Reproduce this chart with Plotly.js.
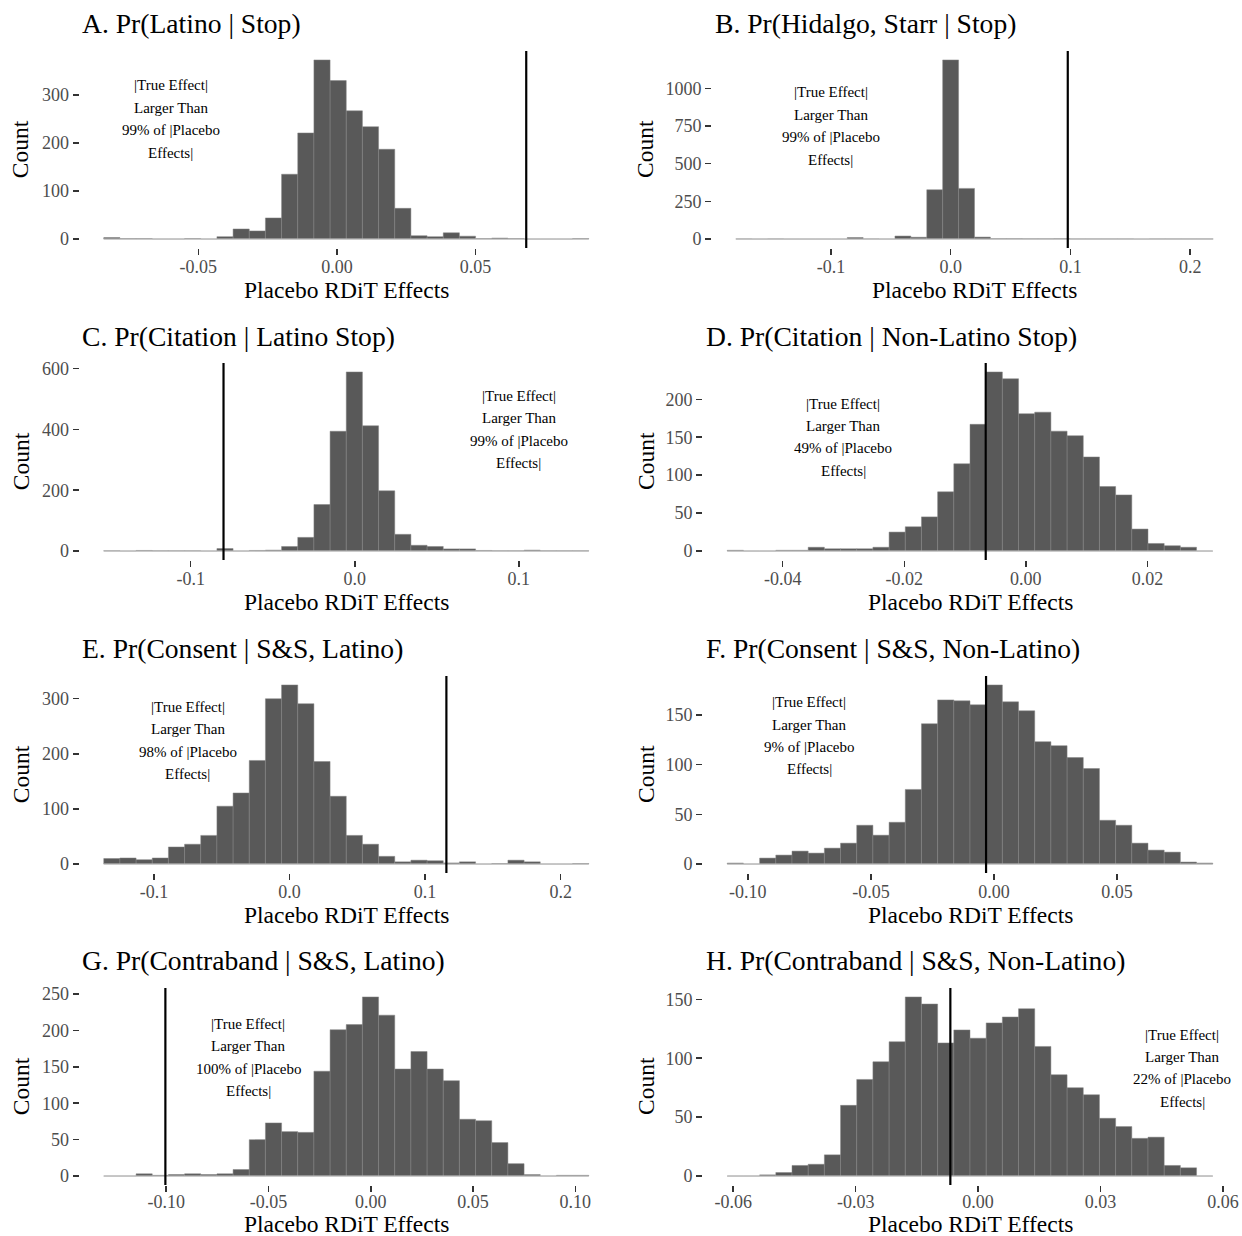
<!DOCTYPE html>
<html>
<head>
<meta charset="utf-8">
<script src="https://cdn.plot.ly/plotly-3.0.1.min.js"></script>
<style>
  html, body { margin: 0; padding: 0; background: #ffffff; }
  #chart { width: 1242px; height: 1236px; }
</style>
</head>
<body>
<div id="chart"></div>
<script>
// Placebo RDiT effect distributions (30-bin histograms of placebo estimates)
const panelTitles = [
  'A. Pr(Latino | Stop)',
  'B. Pr(Hidalgo, Starr | Stop)',
  'C. Pr(Citation | Latino Stop)',
  'D. Pr(Citation | Non-Latino Stop)',
  'E. Pr(Consent | S&amp;S, Latino)',
  'F. Pr(Consent | S&amp;S, Non-Latino)',
  'G. Pr(Contraband | S&amp;S, Latino)',
  'H. Pr(Contraband | S&amp;S, Non-Latino)'
];

// bin counts, left to right
const countsA = [3,1,1,0,0,1,0,5,21,17,44,135,221,373,330,267,234,187,64,7,5,13,6,1,2,1,0,0,0,1];
const countsB = [1,0,1,0,0,0,0,10,1,0,20,12,327,1188,336,13,3,3,2,2,3,1,1,1,1,0,1,1,1,1];
const countsC = [1,0,2,1,1,1,0,8,0,2,3,15,45,153,394,589,412,198,55,19,15,7,7,2,1,1,3,1,1,1];
const countsD = [1,0,0,1,1,5,3,3,3,5,25,32,45,78,115,167,236,227,181,183,158,152,124,85,74,29,10,7,5,0];
const countsE = [10,11,8,11,31,36,52,105,129,188,300,325,291,186,123,52,36,14,4,7,6,2,4,0,1,7,4,0,0,1];
const countsF = [1,0,6,9,13,11,16,21,39,29,42,75,141,165,164,160,180,163,154,123,119,107,96,44,39,21,14,12,2,1];
const countsG = [0,0,3,1,2,3,2,3,9,50,73,61,60,144,201,208,246,221,147,171,147,131,78,76,46,17,2,0,1,1];
const countsH = [0,0,1,3,9,10,18,60,82,97,114,152,146,113,124,117,130,135,142,110,86,75,69,49,42,32,33,9,7,0];

// outer edges of the binned range [first bin start, last bin end]
const binRangeA = [-0.08414, 0.09086];
const binRangeB = [-0.17937, 0.21919];
const binRangeC = [-0.15301, 0.14265];
const binRangeD = [-0.04911, 0.03074];
const binRangeE = [-0.13703, 0.22070];
const binRangeF = [-0.10836, 0.08891];
const binRangeG = [-0.13053, 0.10657];
const binRangeH = [-0.06145, 0.05748];

// true RDiT estimate per panel, and share of |placebo| it exceeds
const trueEffect = [0.0683, 0.0978, -0.0800, -0.0066, 0.1157, -0.0032, -0.1004, -0.0068];
const pctLarger  = [99, 99, 99, 49, 98, 9, 100, 22];
const noteX = [-0.06, -0.10, 0.10, -0.03, -0.075, -0.075, -0.06, 0.05];
const noteY = [250, 750, 400, 150, 224, 129, 163, 91.5];

// axis ticks
const xTickValsA = [-0.05, 0, 0.05];             const xTickTextA = ['-0.05', '0.00', '0.05'];
const xTickValsB = [-0.1, 0, 0.1, 0.2];          const xTickTextB = ['-0.1', '0.0', '0.1', '0.2'];
const xTickValsC = [-0.1, 0, 0.1];               const xTickTextC = ['-0.1', '0.0', '0.1'];
const xTickValsD = [-0.04, -0.02, 0, 0.02];      const xTickTextD = ['-0.04', '-0.02', '0.00', '0.02'];
const xTickValsE = [-0.1, 0, 0.1, 0.2];          const xTickTextE = ['-0.1', '0.0', '0.1', '0.2'];
const xTickValsF = [-0.10, -0.05, 0, 0.05];      const xTickTextF = ['-0.10', '-0.05', '0.00', '0.05'];
const xTickValsG = [-0.10, -0.05, 0, 0.05, 0.10];const xTickTextG = ['-0.10', '-0.05', '0.00', '0.05', '0.10'];
const xTickValsH = [-0.06, -0.03, 0, 0.03, 0.06];const xTickTextH = ['-0.06', '-0.03', '0.00', '0.03', '0.06'];

const yTickValsA = [0, 100, 200, 300];
const yTickValsB = [0, 250, 500, 750, 1000];
const yTickValsC = [0, 200, 400, 600];
const yTickValsD = [0, 50, 100, 150, 200];
const yTickValsE = [0, 100, 200, 300];
const yTickValsF = [0, 50, 100, 150];
const yTickValsG = [0, 50, 100, 150, 200, 250];
const yTickValsH = [0, 50, 100, 150];

const xAxisTitle = 'Placebo RDiT Effects';
const yAxisTitle = 'Count';

// ---- drawing ----
const W = 1242, H = 1236;
const SERIF = '"Liberation Serif", "Times New Roman", Times, serif';

const panels = [
  [countsA, binRangeA, xTickValsA, xTickTextA, yTickValsA],
  [countsB, binRangeB, xTickValsB, xTickTextB, yTickValsB],
  [countsC, binRangeC, xTickValsC, xTickTextC, yTickValsC],
  [countsD, binRangeD, xTickValsD, xTickTextD, yTickValsD],
  [countsE, binRangeE, xTickValsE, xTickTextE, yTickValsE],
  [countsF, binRangeF, xTickValsF, xTickTextF, yTickValsF],
  [countsG, binRangeG, xTickValsG, xTickTextG, yTickValsG],
  [countsH, binRangeH, xTickValsH, xTickTextH, yTickValsH]
];

// panel frame in pixels
const panelLeft  = [79.5, 712, 79.5, 703, 79.5, 703, 79.5, 703];
const panelRight = [613, 1237, 613, 1237, 613, 1237, 613, 1237];
const rowTop = [51, 363, 676, 988];
const panelH = 197;

const px2x = p => p / W;
const px2y = p => 1 - p / H;

const traces = [];
const shapes = [];
const annotations = [];
const layout = {
  width: W, height: H,
  margin: {l: 0, r: 0, t: 0, b: 0},
  paper_bgcolor: '#ffffff',
  plot_bgcolor: '#ffffff',
  showlegend: false,
  hovermode: false,
  font: {family: SERIF, color: '#000000'}
};

panels.forEach((p, i) => {
  const [counts, range, xtv, xtt, ytv] = p;
  const k = i + 1;
  const xa = 'x' + (k === 1 ? '' : k), ya = 'y' + (k === 1 ? '' : k);
  const xKey = 'xaxis' + (k === 1 ? '' : k), yKey = 'yaxis' + (k === 1 ? '' : k);
  const n = counts.length;
  const w = (range[1] - range[0]) / n;
  const centers = counts.map((_, j) => range[0] + (j + 0.5) * w);
  const span = range[1] - range[0];
  const ymax = Math.max(...counts);

  const col = i % 2, row = Math.floor(i / 2);
  const lastRow = row === 3;
  const L = panelLeft[i], R = panelRight[i];
  const T = rowTop[row], B = T + panelH;

  // zero-count baseline under the bars
  traces.push({
    type: 'scatter', mode: 'lines', xaxis: xa, yaxis: ya,
    x: [range[0], range[1]], y: [0, 0],
    line: {color: '#c4c4c4', width: 1.2}, hoverinfo: 'skip'
  });
  traces.push({
    type: 'bar', xaxis: xa, yaxis: ya,
    x: centers, y: counts, width: w,
    marker: {color: '#595959', line: {color: '#858585', width: 0.5}},
    hoverinfo: 'skip'
  });

  const tickCommon = {
    ticks: 'outside', ticklen: 6, tickwidth: 1.5, tickcolor: '#333333',
    showgrid: false, zeroline: false, showline: false,
    tickmode: 'array',
    tickfont: {family: SERIF, size: 18, color: '#4d4d4d'},
    fixedrange: true
  };
  layout[xKey] = Object.assign({}, tickCommon, {
    domain: [px2x(L), px2x(R)], anchor: ya,
    range: [range[0] - 0.05 * span, range[1] + 0.05 * span],
    tickvals: xtv, ticktext: xtt,
    ticklabelstandoff: lastRow ? -6 : -4
  });
  layout[yKey] = Object.assign({}, tickCommon, {
    domain: [px2y(B), px2y(T)], anchor: xa,
    range: [-0.05 * ymax, 1.05 * ymax],
    tickvals: ytv, ticktext: ytv.map(String)
  });

  // true effect marker
  shapes.push({
    type: 'line', xref: xa, yref: ya + ' domain',
    x0: trueEffect[i], x1: trueEffect[i], y0: 0, y1: 1,
    line: {color: '#000000', width: 2.2}
  });

  // panel title
  annotations.push({
    xref: 'paper', yref: 'paper', x: px2x(L + 0.5), y: px2y(T - 27),
    xanchor: 'left', yanchor: 'middle', showarrow: false,
    text: panelTitles[i], font: {family: SERIF, size: 27.6, color: '#000000'}
  });
  // axis titles
  annotations.push({
    xref: 'paper', yref: 'paper', x: px2x((L + R) / 2), y: px2y(B + (lastRow ? 38.5 : 42)),
    xanchor: 'center', yanchor: 'middle', showarrow: false,
    text: xAxisTitle, font: {family: SERIF, size: 23.5, color: '#000000'}
  });
  annotations.push({
    xref: 'paper', yref: 'paper', x: px2x(col === 0 ? 20.7 : 645.5), y: px2y((T + B) / 2),
    xanchor: 'center', yanchor: 'middle', showarrow: false, textangle: -90,
    text: yAxisTitle, font: {family: SERIF, size: 23.5, color: '#000000'}
  });

  // four-line note
  const lines = ['|True Effect|', 'Larger Than', pctLarger[i] + '% of |Placebo', 'Effects|'];
  lines.forEach((t, j) => {
    annotations.push({
      xref: xa, yref: ya, x: noteX[i], y: noteY[i],
      yshift: (1.5 - j) * 22.4,
      xanchor: 'center', yanchor: 'middle', showarrow: false,
      text: t, font: {family: SERIF, size: 15, color: '#000000'}
    });
  });
});

layout.shapes = shapes;
layout.annotations = annotations;
layout.bargap = 0;

Plotly.newPlot('chart', traces, layout, {displayModeBar: false, staticPlot: true});
</script>
</body>
</html>
